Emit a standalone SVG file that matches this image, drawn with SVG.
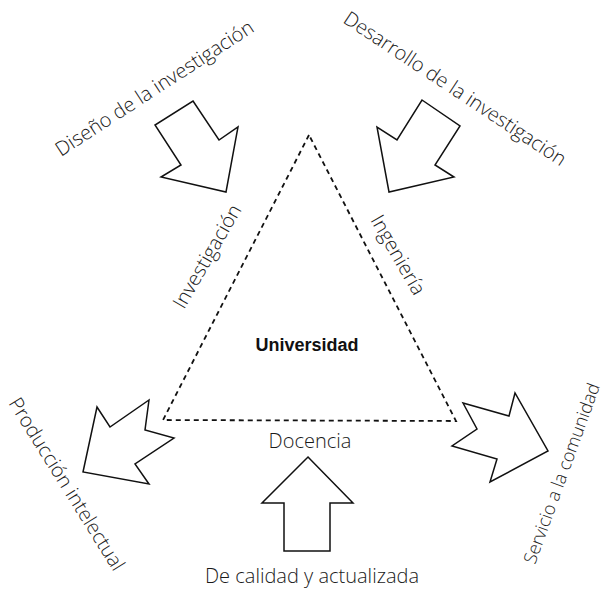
<svg xmlns="http://www.w3.org/2000/svg" width="610" height="590" viewBox="0 0 610 590">
<style>
.lbl{font-family:"Open Sans","Liberation Sans",sans-serif;font-weight:300;font-size:20px;fill:#1a1a1a}
.bold{font-family:"Liberation Sans","Open Sans",sans-serif;font-weight:bold;font-size:18px;fill:#111}
.arrow{fill:#fff;stroke:#111;stroke-width:1.5;stroke-linejoin:miter}
.tri{fill:none;stroke:#111;stroke-width:1.8;stroke-dasharray:5,4}
</style>
<rect width="610" height="590" fill="#fff"/>
<g id="universidad">
<polygon class="tri" points="309,135 163,420 456,421"/>
<text class="bold" x="307" y="351" text-anchor="middle">Universidad</text>
<text class="lbl" transform="translate(184,310) rotate(-60)">Investigación</text>
<text class="lbl" transform="translate(370,220) rotate(60)">Ingeniería</text>
<text class="lbl" x="310" y="448" text-anchor="middle">Docencia</text>
</g>
<g id="connectors">
<g id="arrow-diseno">
<polygon class="arrow" points="193,101 219,140 238,127 226,192 161,177 181,165 155,125"/>
</g>
<g id="arrow-desarrollo">
<polygon class="arrow" points="422,100 460,126 435,165 454,177 389,192 377,127 397,140"/>
</g>
<g id="arrow-produccion">
<polygon class="arrow" points="149,400 145,430 174,438 135,464 149,484 83,472 97,407 110,427"/>
</g>
<g id="arrow-servicio">
<polygon class="arrow" points="463,403 477,429 452,446 497,459 490,482 548,451 515,393 509,416"/>
</g>
<g id="arrow-docencia">
<polygon class="arrow" points="308,457 353,503 330,503 330,551 284,551 284,503 262,503"/>
</g>
</g>
<g id="diseno">
<text class="lbl" transform="translate(61,157) rotate(-33)">Diseño de la investigación</text>
</g>
<g id="desarrollo">
<text class="lbl" transform="translate(342,22) rotate(33.5)">Desarrollo de la investigación</text>
</g>
<g id="produccion">
<text class="lbl" transform="translate(8,403) rotate(58)">Producción intelectual</text>
</g>
<g id="servicio">
<text class="lbl" style="font-size:18px" transform="translate(535,565) rotate(-70)">Servicio a la comunidad</text>
</g>
<g id="calidad">
<text class="lbl" x="312" y="583" text-anchor="middle">De calidad y actualizada</text>
</g>
</svg>
